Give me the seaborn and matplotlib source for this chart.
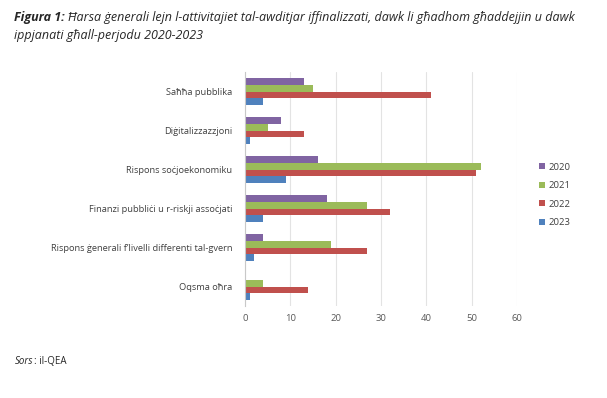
import pandas as pd
import matplotlib.pyplot as plt
import numpy as np
import seaborn as sns

categories = ['Saħħa pubblika', 'Diġitalizzazzjoni', 'Rispons soċjoekonomiku',
              'Finanzi pubbliċi u r-riskji assoċjati',
              'Rispons ġenerali f’livelli differenti tal-gvern', 'Oqsma oħra']
years = ['2020', '2021', '2022', '2023']
val_2020 = [13, 8, 16, 18, 4, 0]
val_2021 = [15, 5, 52, 27, 19, 4]
val_2022 = [41, 13, 51, 32, 27, 14]
val_2023 = [4, 1, 9, 4, 2, 1]
colors = ['#8064A2', '#9BBB59', '#C0504D', '#4F81BD']

df = pd.DataFrame({'kategorija': categories * 4,
                   'sena': np.repeat(years, len(categories)),
                   'valur': val_2020 + val_2021 + val_2022 + val_2023})

sns.set_theme(style='white')
plt.rcParams['font.family'] = ['Open Sans', 'DejaVu Sans']

fig = plt.figure(figsize=(6.07, 3.98), dpi=100)
ax = fig.add_axes([245 / 607, 1 - 306 / 398, (517 - 245) / 607, (306 - 72) / 398])

sns.barplot(data=df, y='kategorija', x='valur', hue='sena', order=categories,
            hue_order=years, palette=colors, orient='h', width=0.68,
            saturation=1, ax=ax, linewidth=0)

ax.set_xlim(0, 60)
ax.set_ylim(len(categories) - 0.5, -0.5)
ax.set_xticks(range(0, 61, 10))
ax.xaxis.grid(True, color='#e3e3e3', linewidth=0.8)
ax.set_axisbelow(True)
ax.set_xlabel('')
ax.set_ylabel('')
for s in ['top', 'right', 'bottom']:
    ax.spines[s].set_visible(False)
ax.spines['left'].set_color('#c8c8c8')
ax.spines['left'].set_linewidth(0.8)
ax.tick_params(axis='x', length=0, labelsize=6.8, labelcolor='#595959', pad=6)
ax.tick_params(axis='y', which='major', length=0, labelsize=6.7, labelcolor='#404040', pad=9)
ax.set_yticks(np.arange(-0.5, len(categories), 1), minor=True)
ax.tick_params(axis='y', which='minor', length=3, color='#c8c8c8', width=0.8)

leg = ax.legend(loc='center left', bbox_to_anchor=(1.05, 0.475), frameon=False,
                fontsize=6.8, handlelength=0.6, handleheight=0.6, labelspacing=1.0,
                handletextpad=0.35)
for t in leg.get_texts():
    t.set_color('#404040')

renderer = fig.canvas.get_renderer()
t1 = fig.text(14 / 607, 1 - 17 / 398, 'Figura 1:', fontsize=9, fontstyle='italic',
              fontweight='bold', va='center', ha='left')
bb = t1.get_window_extent(renderer).transformed(fig.transFigure.inverted())
fig.text(bb.x1 + 0.005, 1 - 17 / 398,
         'Ħarsa ġenerali lejn l-attivitajiet tal-awditjar iffinalizzati, dawk li għadhom għaddejjin u dawk',
         fontsize=9, fontstyle='italic', va='center', ha='left')
fig.text(14 / 607, 1 - 35 / 398, 'ippjanati għall-perjodu 2020-2023', fontsize=9,
         fontstyle='italic', va='center', ha='left')

s1 = fig.text(15 / 607, 1 - 362 / 398, 'Sors', fontsize=7, fontstyle='italic',
              va='center', ha='left')
bb = s1.get_window_extent(renderer).transformed(fig.transFigure.inverted())
fig.text(bb.x1, 1 - 362 / 398, ': il-QEA', fontsize=7, va='center', ha='left')

fig.savefig('out.png', dpi=100)
